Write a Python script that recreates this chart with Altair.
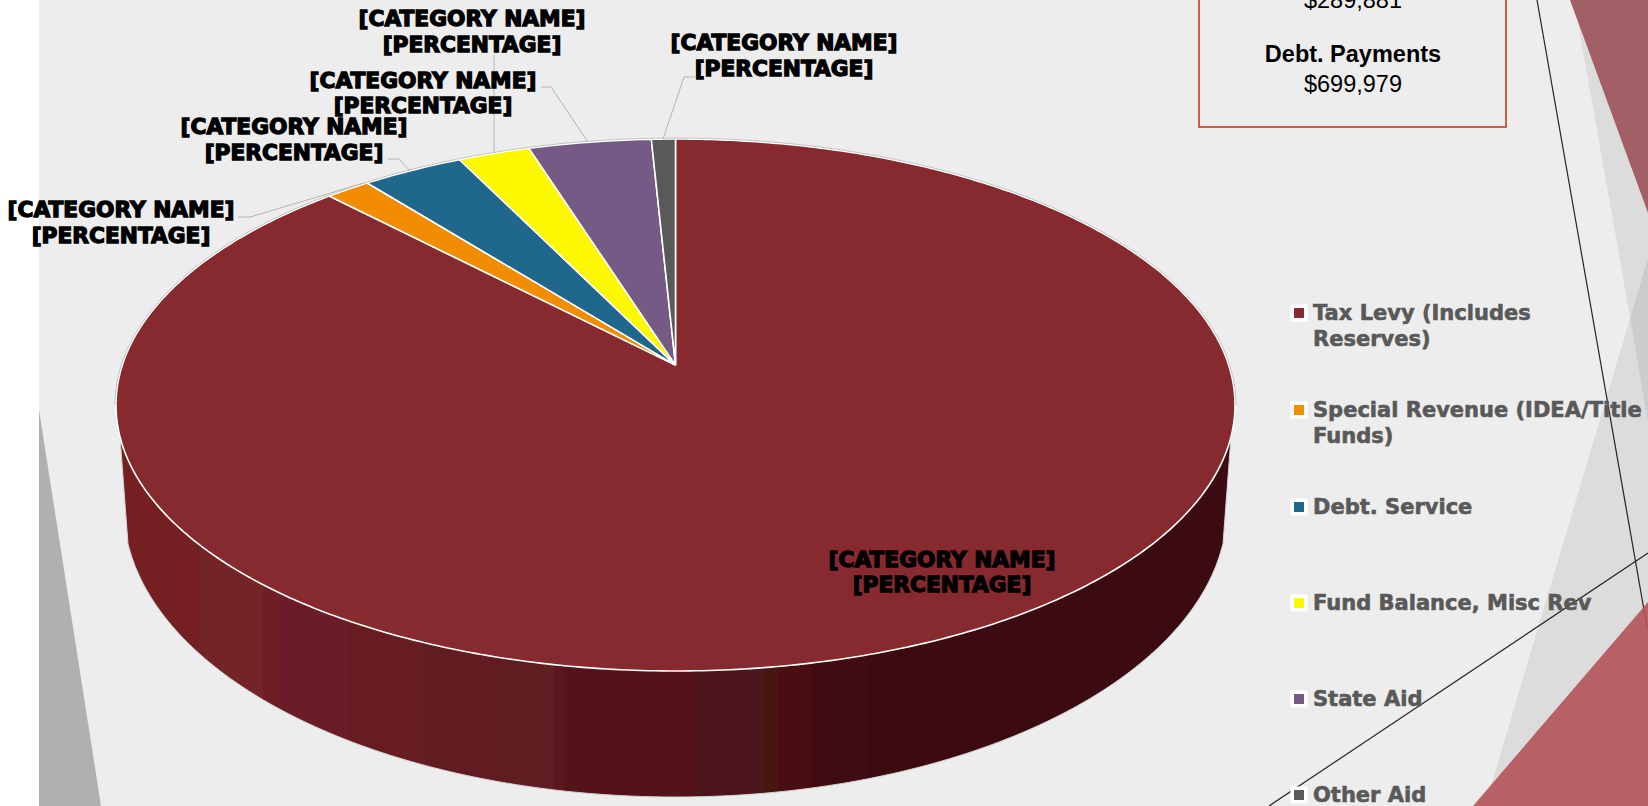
import numpy as np
import pandas as pd
import altair as alt

W, H = 1648, 806

# Budget revenue shares, percent of total, clockwise from twelve o'clock
categories = ["Tax Levy (Includes Reserves)", "Special Revenue (IDEA/Title Funds)", "Debt. Service",
              "Fund Balance, Misc Rev", "State Aid", "Other Aid"]
shares = [87.8, 1.5, 3.4, 2.4, 4.1, 0.8]
slice_colors = ["#862a2f", "#f28c00", "#1f678c", "#fcf800", "#745a85", "#595959"]

legend_lines = [["Tax Levy (Includes", "Reserves)"], ["Special Revenue (IDEA/Title", "Funds)"],
                ["Debt. Service"], ["Fund Balance, Misc Rev"], ["State Aid"], ["Other Aid"]]
legend_y = [313, 410, 507, 603, 699, 795]

# Shading of the pie's side wall, left to right
band_edges = [120, 199, 263, 280, 347, 426, 503, 553, 564, 699, 755, 764, 778, 811, 868, 1231]
band_colors = ["#742023", "#722426", "#6f1e26", "#6b1c29", "#661c21", "#601c20", "#5f1e21", "#5e1522",
               "#541219", "#4c151b", "#49161a", "#47160f", "#490e12", "#400c12", "#3c0b11"]

# Tilted-disc geometry of the pie
CX, CY, RX, RY, TILT = 675.5, 405.0, 559.5, 266.0, 0.15
BASE_CY, BASE_RX, BASE_RY = 507.0, 552.0, 290.0
BASE_LEFT, BASE_RIGHT = 128.0, 1223.0

x_scale = alt.Scale(domain=[0, W], range=[0, W], nice=False, zero=False)
y_scale = alt.Scale(domain=[0, H], range=[0, H], nice=False, zero=False)


def rim_point(theta):
    u, v = np.sin(theta), np.cos(theta)
    d = 1 + TILT * v
    return CX + RX * u * np.sqrt(1 - TILT ** 2) / d, CY - RY * (v + TILT) / d


def shape_rows(name, xs, ys):
    return [{"shape": name, "i": i, "x": float(a), "y": float(b)} for i, (a, b) in enumerate(zip(xs, ys))]


def polygons(rows, names, colors, width=0.0, stroke="#ffffff", opacity=1.0):
    return alt.Chart(pd.DataFrame(rows)).mark_line(
        filled=True, stroke=stroke, strokeWidth=width, opacity=opacity, strokeJoin="round"
    ).encode(
        x=alt.X("x:Q", scale=x_scale, axis=None),
        y=alt.Y("y:Q", scale=y_scale, axis=None),
        fill=alt.Fill("shape:N", scale=alt.Scale(domain=names, range=colors), legend=None),
        order="i:Q",
    )


def strokes(rows, color, width):
    return alt.Chart(pd.DataFrame(rows)).mark_line(color=color, strokeWidth=width).encode(
        x=alt.X("x:Q", scale=x_scale, axis=None),
        y=alt.Y("y:Q", scale=y_scale, axis=None),
        detail="shape:N",
        order="i:Q",
    )


def texts(xs, ys, labels, color, font, size, weight, align="center", outline=0.0):
    frame = pd.DataFrame({"x": xs, "y": ys, "t": labels})
    props = dict(color=color, font=font, fontSize=size, fontWeight=weight, align=align, baseline="alphabetic")
    if outline:
        props.update(stroke=color, strokeWidth=outline)
    return alt.Chart(frame).mark_text(**props).encode(
        x=alt.X("x:Q", scale=x_scale, axis=None),
        y=alt.Y("y:Q", scale=y_scale, axis=None),
        text="t:N",
    )


def base_y(x):
    c = np.clip((np.asarray(x, dtype=float) - CX) / BASE_RX, -1, 1)
    return BASE_CY + BASE_RY * np.sqrt(1 - c ** 2)


# Slide backdrop
panel = polygons(shape_rows("panel", [39, W, W, 39], [0, 0, H, H]), ["panel"], ["#ededed"])
wedge_left = polygons(shape_rows("w", [39, 101, 39], [410, H, H]), ["w"], ["#b0b0b0"])
slide_lines = strokes(
    shape_rows("a", [1537, 1647], [0, 627]) + shape_rows("b", [1269, W], [H, 553]), "#262626", 1.2
)
grey_rows = shape_rows("g1", [1578, W, W, 1645, 1630], [23, 213, 420, 406, 317]) + shape_rows(
    "g2", [W, 1485, W], [258, H, H]
)
grey_shapes = polygons(grey_rows, ["g1", "g2"], ["#000000", "#000000"], opacity=0.07)
wedge_top = polygons(shape_rows("t", [1570, W, W], [0, 0, 213]), ["t"], ["#a35f66"])
wedge_pink = polygons(shape_rows("p", [1473, 1648, W], [H, 602, H]), ["p"], ["#b3535a"], opacity=0.9)

# Side wall: one polygon per shading band
wall_rows, wall_names = [], []
for k, color in enumerate(band_colors):
    x0, x1 = band_edges[k], band_edges[k + 1] + (1.2 if k < len(band_colors) - 1 else 0)
    top = np.linspace(np.arccos((x0 - CX) / RX), np.arccos((x1 - CX) / RX), 40)
    bottom_x = np.linspace(min(x1, BASE_RIGHT), max(x0, BASE_LEFT), 60)
    xs = np.r_[CX + RX * np.cos(top), bottom_x]
    ys = np.r_[CY + RY * np.sin(top), base_y(bottom_x)]
    name = f"band{k:02d}"
    wall_names.append(name)
    wall_rows += shape_rows(name, np.r_[xs, xs[0]], np.r_[ys, ys[0]])
wall = polygons(wall_rows, wall_names, band_colors)

edge_top_y = CY + RY * np.sin(np.arccos(555.5 / RX))
edge_mid = np.linspace(BASE_LEFT, BASE_RIGHT, 300)
wall_edge = strokes(
    shape_rows("edge", np.r_[band_edges[0], edge_mid, band_edges[-1]], np.r_[edge_top_y, base_y(edge_mid), edge_top_y]),
    "#d4d4d4", 1,
)

# Top face: slice outlines follow the shares
slice_rows = []
start = 0.0
for name, share in zip(categories, shares):
    stop = start + share / 100 * 2 * np.pi
    steps = np.linspace(start, stop, max(6, int(share * 6)))
    rx_, ry_ = rim_point(steps)
    apex_x, apex_y = CX, CY - RY * TILT
    slice_rows += shape_rows(name, np.r_[apex_x, rx_, apex_x], np.r_[apex_y, ry_, apex_y])
    start = stop
slices = polygons(slice_rows, categories, slice_colors, width=1.6)

arc = np.linspace(np.pi * 1.0, np.pi * 2.0, 200)
top_arc = strokes(shape_rows("rim", CX + (RX + 1) * np.cos(arc), CY + (RY + 1) * np.sin(arc)), "#c4c4c4", 1)

# Data-label placeholders and their leader lines
label_x = [784, 472, 423, 294, 121, 942]
label_y1 = [50, 26, 88, 134, 217, 567]
label_y2 = [76, 52, 113, 160, 243, 592]
leader_rows = (
    shape_rows("l1", [695, 684, 663], [77, 77, 139])
    + shape_rows("l2", [494, 494], [55, 153])
    + shape_rows("l3", [541, 551, 588], [87, 87, 142])
    + shape_rows("l4", [388, 399, 410], [159, 159, 171])
    + shape_rows("l5", [238, 250, 364], [217, 217, 183])
)
leaders = strokes(leader_rows, "#b4b4b4", 1)
name_tag = ["[CATEGORY NAME]"] * len(label_x)
pct_tag = ["[PERCENTAGE]"] * len(label_x)
HEAVY_FONT = "DejaVu Sans"
tags = texts(label_x + label_x, label_y1 + label_y2, name_tag + pct_tag, "#000000", HEAVY_FONT, 21.7, 700, outline=1.3)

# Legend
sym = pd.DataFrame({"x": [1299] * 6, "y": legend_y, "c": categories})
sym_back = alt.Chart(sym).mark_square(size=289, color="#ffffff", opacity=1).encode(
    x=alt.X("x:Q", scale=x_scale, axis=None), y=alt.Y("y:Q", scale=y_scale, axis=None)
)
sym_front = alt.Chart(sym).mark_square(size=100, opacity=1).encode(
    x=alt.X("x:Q", scale=x_scale, axis=None),
    y=alt.Y("y:Q", scale=y_scale, axis=None),
    color=alt.Color("c:N", scale=alt.Scale(domain=categories, range=slice_colors), legend=None),
)
lx, ly, lt = [], [], []
for y0, lines in zip(legend_y, legend_lines):
    for n, line in enumerate(lines):
        lx.append(1313)
        ly.append(y0 + 7 + n * 25.5)
        lt.append(line)
legend_text = texts(lx, ly, lt, "#595959", HEAVY_FONT, 21, 700, align="left", outline=0.6)

# Call-out box with budget figures
box = strokes(shape_rows("box", [1199, 1199, 1506, 1506], [-10, 127, 127, -10]), "#cc2a10", 1.5)
box_bold = texts([1353], [62], ["Debt. Payments"], "#000000", "Liberation Sans", 23.5, 700)
box_plain = texts([1353, 1353], [8, 92], ["$289,881", "$699,979"], "#000000", "Liberation Sans", 23.5, 400)

chart = alt.layer(
    panel, wedge_left, slide_lines, grey_shapes, wedge_top, wedge_pink,
    wall, wall_edge, slices, top_arc, leaders, tags,
    sym_back, sym_front, legend_text, box, box_bold, box_plain,
).resolve_scale(fill="independent", color="independent").properties(
    width=W, height=H, padding=0, background="#ffffff", autosize=alt.AutoSizeParams(type="none")
).configure_view(stroke=None)

chart.save("out.html", embed_options={"renderer": "svg", "actions": False})
